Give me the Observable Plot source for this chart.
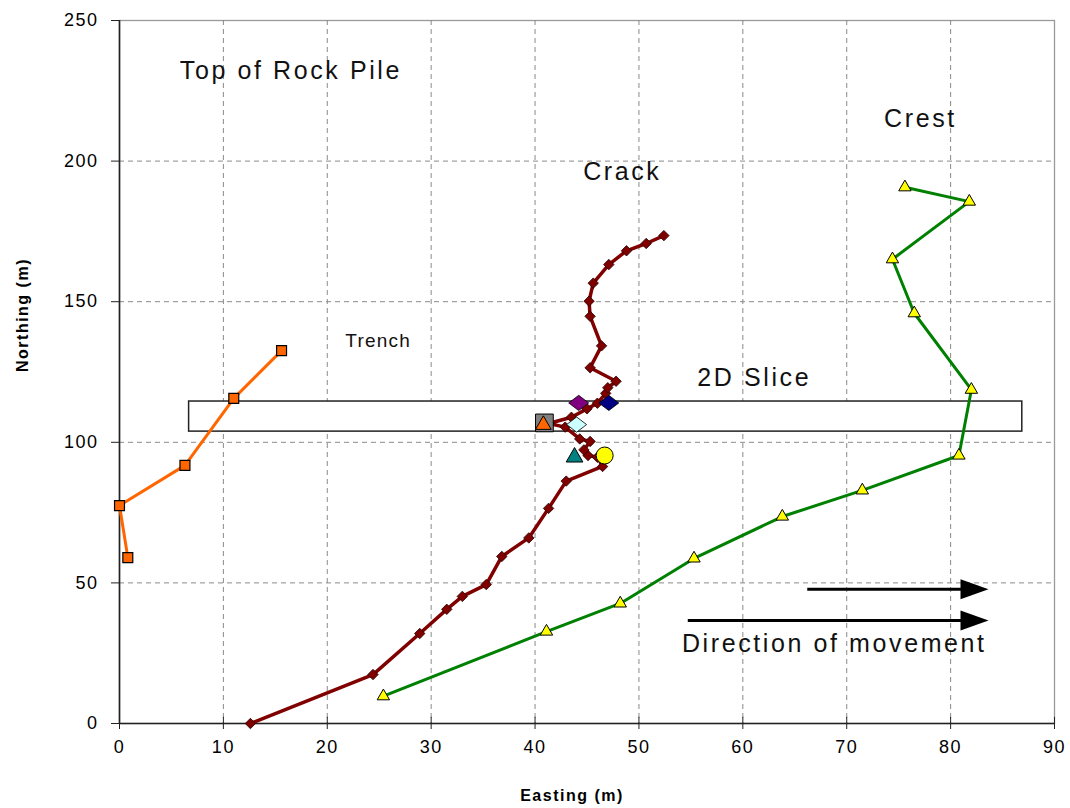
<!DOCTYPE html>
<html><head><meta charset="utf-8">
<script src="https://cdn.jsdelivr.net/npm/d3@7"></script>
<script src="https://cdn.jsdelivr.net/npm/@observablehq/plot@0.6"></script>
<style>
body{margin:0;background:#fff;}
#chart svg{display:block;}
</style></head><body><div id="chart"></div>
<script>
// ---- data ----
const xTicks = [0, 10, 20, 30, 40, 50, 60, 70, 80, 90];
const yTicks = [0, 50, 100, 150, 200, 250];

const trenchE = [15.6, 11.0, 6.3, 0.0, 0.8];
const trenchN = [132.6, 115.6, 91.8, 77.5, 59.0];

const crestE = [75.6, 81.8, 74.4, 76.5, 82.0, 80.8, 71.5, 63.8, 55.3, 48.2, 41.1, 25.4];
const crestN = [190.7, 185.6, 165.1, 145.9, 118.7, 95.3, 82.9, 73.6, 58.7, 42.7, 32.7, 9.7];

const crackE = [12.6, 24.4, 28.9, 31.5, 33.0, 35.3, 36.8, 39.4, 41.3, 43.0, 46.5, 46.0, 45.1, 44.7, 45.3, 44.3, 42.9, 41.3, 43.5, 45.0, 46.0, 46.8, 47.0, 47.8, 45.3, 46.4, 45.3, 45.2, 45.6, 47.1, 48.8, 50.7, 52.4];
const crackN = [0.0, 17.4, 32.0, 40.6, 45.2, 49.4, 59.4, 66.0, 76.5, 86.2, 91.4, 94.7, 95.3, 97.3, 100.3, 101.2, 105.4, 106.7, 108.9, 111.9, 113.9, 117.4, 119.4, 121.7, 126.5, 134.3, 144.8, 150.2, 156.6, 163.2, 168.1, 170.7, 173.5];

// special survey markers on the crack
const specialName = ["purple", "navy", "gray", "orange", "cyan", "teal", "yellow"];
const specialE = [44.2, 47.1, 40.9, 40.8, 44.0, 43.8, 46.7];
const specialN = [114.0, 114.0, 106.9, 106.2, 106.3, 94.7, 95.3];

// 2D slice box
const sliceE = [6.7, 86.9];
const sliceN = [103.8, 114.5];

// movement arrows
const arrowStartE = [66.2, 54.7];
const arrowEndE = [82.3, 82.3];
const arrowN = [47.7, 36.6];

// annotations
const noteText = ["Top of Rock Pile", "Crack", "Crest", "2D Slice", "Direction of movement"];
const noteE = [16.5, 48.4, 77.1, 61.1, 68.8];
const noteN = [232.2, 196.3, 215.1, 123.0, 28.4];
const trenchLabel = {text: "Trench", e: 24.9, n: 136.2};

// ---- tables ----
const zip = (E, N) => E.map((e, i) => ({e, n: N[i]}));
const trench = zip(trenchE, trenchN);
const crest = zip(crestE, crestN);
const crack = zip(crackE, crackN);
const special = specialName.map((k, i) => ({k, e: specialE[i], n: specialN[i]}));
const arrows = arrowN.map((n, i) => ({e1: arrowStartE[i], e2: arrowEndE[i], n}));
const notes = noteText.map((t, i) => ({t, e: noteE[i], n: noteN[i]}));
const sp = k => special.filter(d => d.k === k);

const wideDiamond = {draw(ctx, size) {
  const r = Math.sqrt(size / Math.PI);
  ctx.moveTo(-1.25 * r, 0); ctx.lineTo(0, -0.95 * r); ctx.lineTo(1.25 * r, 0); ctx.lineTo(0, 0.95 * r); ctx.closePath();
}};
const arrowHead = {draw(ctx, size) {
  const r = Math.sqrt(size / Math.PI);
  ctx.moveTo(-1.4 * r, -r); ctx.lineTo(1.4 * r, 0); ctx.lineTo(-1.4 * r, r); ctx.closePath();
}};

const chart = Plot.plot({
  width: 1070, height: 808,
  marginLeft: 119, marginRight: 16, marginTop: 20, marginBottom: 85,
  x: {domain: [0, 90], axis: null},
  y: {domain: [0, 250], axis: null},
  style: {fontFamily: "'Liberation Sans', Arial, sans-serif", fontSize: "18px", color: "#000", background: "#fff"},
  marks: [
    Plot.frame({stroke: "#9a9a9a", strokeWidth: 1.3}),
    Plot.gridX({ticks: xTicks.filter(t => t > 0 && t < 90), stroke: "#8a8a8a", strokeOpacity: 1, strokeDasharray: "5,4"}),
    Plot.gridY({ticks: yTicks.filter(t => t > 0 && t < 250), stroke: "#8a8a8a", strokeOpacity: 1, strokeDasharray: "5,4"}),
    Plot.rect([{}], {x1: sliceE[0], x2: sliceE[1], y1: sliceN[0], y2: sliceN[1], fill: "white", stroke: "#222", strokeWidth: 1.5}),
    Plot.ruleX([0], {stroke: "#222", strokeWidth: 1.6}),
    Plot.ruleY([0], {stroke: "#222", strokeWidth: 1.6}),
    Plot.axisX({ticks: xTicks, tickSize: 6, tickPadding: 11, tickFormat: d => String(d), label: null, stroke: "#222"}),
    Plot.ruleX(xTicks, {x: d => d, y1: 0, y2: 2.2, stroke: "#222"}),
    Plot.axisY({ticks: yTicks, tickSize: 8, tickPadding: 13, tickFormat: d => String(d), label: null, stroke: "#222"}),
    // series
    Plot.line(trench, {x: "e", y: "n", stroke: "#FF6600", strokeWidth: 3}),
    Plot.dot(trench, {x: "e", y: "n", symbol: "square", r: 5.6, fill: "#FF6600", stroke: "#000", strokeWidth: 1.2}),
    Plot.line(crest, {x: "e", y: "n", stroke: "#008000", strokeWidth: 3}),
    Plot.dot(crest, {x: "e", y: "n", symbol: "triangle", r: 4.6, fill: "#FFFF00", stroke: "#000", strokeWidth: 1}),
    Plot.line(crack, {x: "e", y: "n", stroke: "#800000", strokeWidth: 3.5}),
    Plot.dot(crack, {x: "e", y: "n", symbol: "diamond2", r: 4.7, fill: "#800000", stroke: "#200000", strokeWidth: 0.8}),
    // special markers
    Plot.dot(sp("teal"), {x: "e", y: "n", symbol: "triangle", r: 6.2, fill: "#008080", stroke: "#000", strokeWidth: 1}),
    Plot.dot(sp("yellow"), {x: "e", y: "n", r: 8.5, fill: "#FFFF00", stroke: "#000", strokeWidth: 1}),
    Plot.dot(sp("gray"), {x: "e", y: "n", symbol: "square", r: 10, fill: "#808080", stroke: "#000", strokeWidth: 1}),
    Plot.dot(sp("orange"), {x: "e", y: "n", symbol: "triangle", r: 5.8, fill: "#FF6600", stroke: "#000", strokeWidth: 1}),
    Plot.dot(sp("cyan"), {x: "e", y: "n", symbol: wideDiamond, r: 8, fill: "#CCFFFF", stroke: "#000", strokeWidth: 0.8}),
    Plot.dot(sp("purple"), {x: "e", y: "n", symbol: wideDiamond, r: 8, fill: "#800080", stroke: "#000", strokeWidth: 0.8}),
    Plot.dot(sp("navy"), {x: "e", y: "n", symbol: wideDiamond, r: 8, fill: "#000080", stroke: "#000", strokeWidth: 0.8}),
    // arrows
    Plot.link(arrows, {x1: "e1", x2: d => d.e2 - 1.2, y1: "n", y2: "n", stroke: "#000", strokeWidth: 3}),
    Plot.dot(arrows, {x: "e2", y: "n", symbol: arrowHead, r: 10, fill: "#000", stroke: "none"}),
    // annotations
    Plot.text(notes, {x: "e", y: "n", text: "t", fontSize: 25, fill: "#111", textAnchor: "middle", lineAnchor: "middle"}),
    Plot.text([trenchLabel], {x: "e", y: "n", text: "text", fontSize: 19, fill: "#111", textAnchor: "middle", lineAnchor: "middle"}),
    // axis titles
    Plot.text(["Easting (m)"], {frameAnchor: "bottom", dy: 72, dx: -15, text: d => d, fontSize: 16, fontWeight: "bold", lineAnchor: "middle"}),
    Plot.text(["Northing (m)"], {frameAnchor: "left", dx: -97, text: d => d, fontSize: 16, fontWeight: "bold", rotate: -90, lineAnchor: "middle"})
  ]
});
document.getElementById("chart").appendChild(chart);

// letter spacing to match the wide Excel-style text rendering
const tickSet = new Set([...xTicks, ...yTicks].map(String));
d3.select(chart).selectAll("text").each(function() {
  const s = this.textContent;
  let ls = null;
  if (noteText.includes(s)) ls = "2.6px";
  else if (s === trenchLabel.text) ls = "1.2px";
  else if (s === "Easting (m)" || s === "Northing (m)") ls = "1.5px";
  else if (tickSet.has(s)) ls = "1.5px";
  if (ls) { this.setAttribute("letter-spacing", ls); this.style.letterSpacing = ls; }
});
</script>
</body></html>
